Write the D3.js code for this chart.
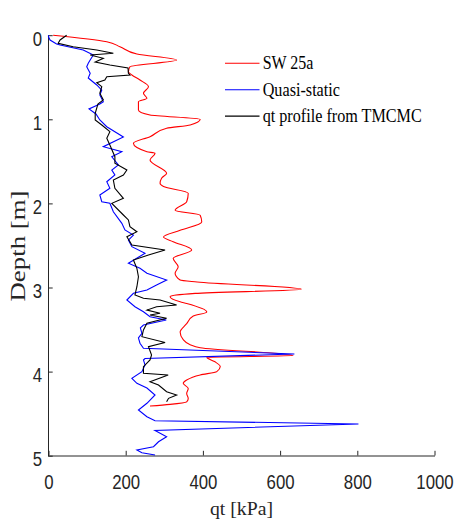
<!DOCTYPE html>
<html>
<head>
<meta charset="utf-8">
<script src="https://cdn.jsdelivr.net/npm/d3@7"></script>
<style>
  html, body { margin: 0; padding: 0; background: #fff; }
  svg { display: block; }
</style>
</head>
<body>
<svg id="chart" width="457" height="527"></svg>
<script>
// Cone resistance profiles: qt (kPa) against depth (m)
const redDepth = [0, 0.077, 0.137, 0.224, 0.295, 0.375, 0.434, 0.473, 0.533, 0.612, 0.691, 0.750, 0.791, 0.889, 0.949, 1.0, 1.067, 1.107, 1.207, 1.285, 1.385, 1.404, 1.484, 1.642, 1.70, 1.761, 1.80, 1.88, 1.98, 2.08, 2.14, 2.22, 2.32, 2.40, 2.455, 2.554, 2.653, 2.753, 2.831, 2.911, 2.935, 3.02, 3.07, 3.11, 3.17, 3.19, 3.29, 3.34, 3.43, 3.53, 3.62, 3.68, 3.716, 3.81, 3.83, 3.88, 3.94, 4.0, 4.04, 4.10, 4.14, 4.20, 4.26, 4.32, 4.36, 4.39, 4.41];
const redQt    = [12, 151, 185, 229, 332, 211, 207, 216, 237, 259, 246, 255, 233, 233, 263, 393, 367, 306, 263, 220, 255, 276, 263, 306, 293, 289, 298, 362, 358, 328, 393, 397, 341, 298, 323, 371, 323, 336, 328, 341, 385, 655, 380, 315, 341, 358, 410, 375, 358, 341, 349, 367, 393, 634, 410, 430, 445, 436, 393, 358, 349, 362, 358, 362, 358, 315, 263];

const blueDepth = [0, 0.018, 0.057, 0.105, 0.117, 0.176, 0.235, 0.295, 0.334, 0.375, 0.453, 0.509, 0.592, 0.652, 0.711, 0.791, 0.818, 0.877, 0.937, 1.008, 1.088, 1.210, 1.326, 1.385, 1.445, 1.543, 1.603, 1.662, 1.742, 1.820, 1.900, 1.980, 1.999, 2.099, 2.237, 2.316, 2.376, 2.435, 2.515, 2.593, 2.712, 2.772, 2.831, 2.911, 2.970, 3.030, 3.069, 3.149, 3.228, 3.288, 3.347, 3.386, 3.446, 3.48, 3.545, 3.60, 3.663, 3.723, 3.79, 3.845, 3.862, 3.921, 4.001, 4.080, 4.139, 4.195, 4.278, 4.377, 4.457, 4.536, 4.584, 4.623, 4.70, 4.774, 4.834, 4.893, 4.932, 4.964, 4.992];
const blueQt    = [0, 0, 4, 21, 30, 90, 116, 108, 103, 99, 108, 103, 125, 138, 133, 142, 133, 105, 123, 133, 151, 194, 142, 190, 164, 181, 164, 172, 151, 159, 133, 138, 159, 168, 190, 198, 220, 207, 216, 250, 207, 237, 255, 306, 280, 255, 220, 203, 224, 246, 263, 305, 246, 238, 242, 233, 237, 246, 637, 250, 246, 250, 242, 216, 229, 255, 276, 255, 233, 255, 276, 803, 276, 306, 285, 272, 229, 242, 276];

const blackDepth = [0, 0.057, 0.096, 0.137, 0.176, 0.215, 0.235, 0.275, 0.319, 0.354, 0.390, 0.453, 0.473, 0.493, 0.533, 0.565, 0.612, 0.691, 0.770, 0.818, 0.929, 1.008, 1.068, 1.147, 1.226, 1.306, 1.445, 1.523, 1.603, 1.662, 1.722, 1.820, 1.939, 1.999, 2.138, 2.197, 2.277, 2.337, 2.396, 2.455, 2.495, 2.554, 2.614, 2.673, 2.772, 2.872, 2.991, 3.089, 3.128, 3.149, 3.208, 3.228, 3.268, 3.307, 3.327, 3.366, 3.426, 3.505, 3.585, 3.654, 3.704, 3.803, 3.862, 3.942, 4.020, 4.040, 4.120, 4.159, 4.239, 4.278, 4.318, 4.358];
const blackQt    = [47, 30, 25, 64, 125, 168, 108, 142, 121, 159, 206, 207, 211, 151, 146, 125, 138, 133, 142, 128, 121, 121, 138, 159, 151, 159, 172, 172, 203, 194, 168, 172, 194, 164, 194, 207, 211, 229, 203, 211, 216, 302, 259, 220, 229, 233, 229, 224, 246, 289, 332, 280, 255, 289, 263, 306, 255, 246, 242, 302, 259, 267, 263, 246, 246, 310, 263, 285, 306, 332, 311, 306];

const xTicks = [0, 200, 400, 600, 800, 1000];
const yTicks = [0, 1, 2, 3, 4, 5];
const seriesNames = ["SW 25a", "Quasi-static", "qt profile from TMCMC"];
const seriesColors = ["#ff0000", "#0000ff", "#000000"];

const svg = d3.select("#chart");

const x = d3.scaleLinear().domain([0, 1000]).range([48.5, 434.5]);
const y = d3.scaleLinear().domain([0, 5]).range([35.2, 455.7]);

const tickFont = "'Liberation Sans', Arial, Helvetica, sans-serif";
const serifFont = "'Liberation Serif', 'Times New Roman', serif";
const squeeze = 0.8;

// Bottom axis
const gx = svg.append("g")
  .attr("transform", "translate(0,455.5)")
  .call(d3.axisBottom(x).tickValues(xTicks).tickSize(-4.7).tickSizeOuter(0).tickFormat(d3.format("d")));
gx.select(".domain").attr("stroke", "#262626").attr("stroke-width", 1);
gx.selectAll(".tick line").attr("stroke", "#262626");
gx.selectAll(".tick text")
  .attr("y", 33.5).attr("dy", null)
  .attr("fill", "#262626")
  .style("font-family", tickFont).style("font-size", "21px")
  .attr("transform", `scale(${squeeze},1)`);

// Left axis
const gy = svg.append("g")
  .attr("transform", "translate(48,0)")
  .call(d3.axisLeft(y).tickValues(yTicks).tickSize(-4.7).tickSizeOuter(0).tickFormat(d3.format("d")));
gy.select(".domain").attr("stroke", "#262626").attr("stroke-width", 1);
gy.selectAll(".tick line").attr("stroke", "#262626");
gy.selectAll(".tick text")
  .attr("x", -5.8 / squeeze).attr("y", 10).attr("dy", null)
  .attr("fill", "#262626")
  .style("font-family", tickFont).style("font-size", "21px")
  .attr("transform", `scale(${squeeze},1)`);

// Profiles
const lineSmooth = d3.line().x(d => x(d[1])).y(d => y(d[0])).curve(d3.curveMonotoneY);
const lineRaw = d3.line().x(d => x(d[1])).y(d => y(d[0]));

const plot = svg.append("g");
plot.append("path")
  .datum(d3.zip(redDepth, redQt))
  .attr("fill", "none").attr("stroke", seriesColors[0]).attr("stroke-width", 1.1)
  .attr("d", lineSmooth);
plot.append("path")
  .datum(d3.zip(blueDepth, blueQt))
  .attr("fill", "none").attr("stroke", seriesColors[1]).attr("stroke-width", 1.1)
  .attr("d", lineRaw);
plot.append("path")
  .datum(d3.zip(blackDepth, blackQt))
  .attr("fill", "none").attr("stroke", seriesColors[2]).attr("stroke-width", 1.1)
  .attr("d", lineRaw);

// Legend
const legendWidths = [50.7, 77.3, 159];
const legend = svg.append("g");
seriesNames.forEach((name, i) => {
  const ly = 63.3 + i * 26.4;
  legend.append("line")
    .attr("x1", 225).attr("x2", 259.5).attr("y1", ly).attr("y2", ly)
    .attr("stroke", seriesColors[i]).attr("stroke-width", 1.1);
  legend.append("text")
    .attr("x", 262.7).attr("y", ly + 6)
    .attr("textLength", legendWidths[i]).attr("lengthAdjust", "spacingAndGlyphs")
    .style("font-family", serifFont).style("font-size", "18px")
    .attr("fill", "#000")
    .text(name);
});

// Axis titles
svg.append("text")
  .attr("x", 241.5).attr("y", 514.5)
  .attr("text-anchor", "middle")
  .attr("textLength", 63).attr("lengthAdjust", "spacingAndGlyphs")
  .style("font-family", serifFont).style("font-size", "19px")
  .attr("fill", "#262626")
  .text("qt [kPa]");

svg.append("text")
  .attr("transform", "translate(25,246) rotate(-90)")
  .attr("text-anchor", "middle")
  .attr("textLength", 111).attr("lengthAdjust", "spacingAndGlyphs")
  .style("font-family", serifFont).style("font-size", "20px")
  .attr("fill", "#262626")
  .text("Depth [m]");
</script>
</body>
</html>
